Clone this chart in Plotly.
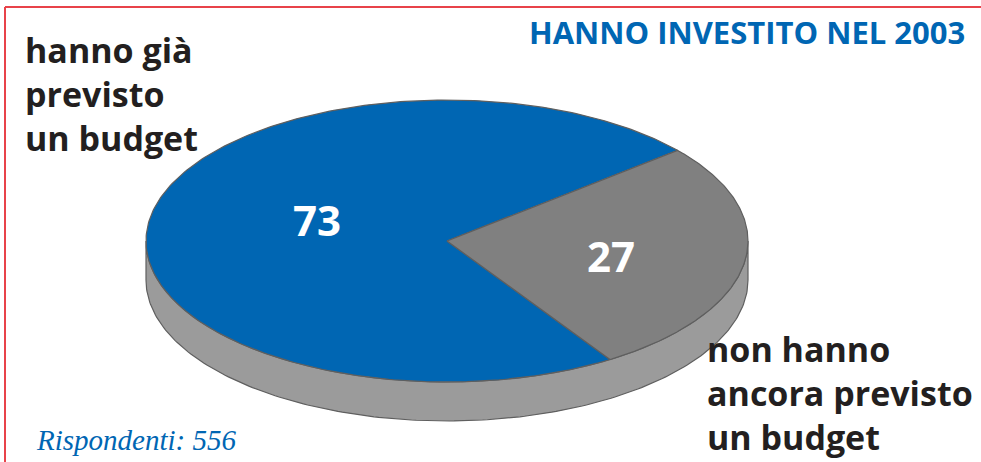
import numpy as np
import plotly.graph_objects as go

# ---- data ----
left_label_lines = ["hanno già", "previsto", "un budget"]
right_label_lines = ["non hanno", "ancora previsto", "un budget"]
values = [73, 27]
value_labels = ["73", "27"]
title_text = "HANNO INVESTITO NEL 2003"
note_text = "Rispondenti: 556"

# ---- styling / geometry ----
W, H = 981, 462
cx, cy, rx, ry, depth = 447, 241, 301, 141, 39
start_deg = 40.0          # boundary between the two slices (upper right)
colors = ["#0066b3", "#808080"]
side_color = "#9b9b9b"
edge = "#5f5f5f"
text_dark = "#231f20"
blue_text = "#0066b3"

fig = go.Figure()

def ell(t):
    return cx + rx * np.cos(t), cy - ry * np.sin(t)

# side (visible lower half)
t = np.linspace(np.pi, 2 * np.pi, 200)
x_top, y_top = ell(t)
xs = np.concatenate([x_top, x_top[::-1], [x_top[0]]])
ys = np.concatenate([y_top, (y_top + depth)[::-1], [y_top[0]]])
fig.add_trace(go.Scatter(x=xs, y=ys, mode="lines", fill="toself", fillcolor=side_color,
                         line=dict(color=edge, width=1.2), hoverinfo="skip", showlegend=False))

# top slices: gray goes clockwise from start, blue counter-clockwise from start
total = sum(values)
a0 = np.radians(start_deg)
span_gray = 2 * np.pi * values[1] / total
spans = {1: (a0 - span_gray, a0), 0: (a0, a0 + 2 * np.pi - span_gray)}
for i in (0, 1):
    lo, hi = spans[i]
    tt = np.linspace(lo, hi, 300)
    ex, ey = ell(tt)
    xs = np.concatenate([[cx], ex, [cx]])
    ys = np.concatenate([[cy], ey, [cy]])
    fig.add_trace(go.Scatter(x=xs, y=ys, mode="lines", fill="toself", fillcolor=colors[i],
                             line=dict(color=edge, width=1.2), hoverinfo="skip", showlegend=False))

# value labels on slices
fig.add_annotation(x=317, y=219, text=f"<b>{value_labels[0]}</b>", showarrow=False,
                   font=dict(family="Open Sans", size=42, color="white"))
fig.add_annotation(x=611, y=255, text=f"<b>{value_labels[1]}</b>", showarrow=False,
                   font=dict(family="Open Sans", size=42, color="white"))

# category labels
fig.add_annotation(x=23, y=94, text="<b>" + "<br>".join(left_label_lines) + "</b>", showarrow=False,
                   xanchor="left", yanchor="middle", align="left",
                   font=dict(family="Open Sans", size=34, color=text_dark))
fig.add_annotation(x=705, y=393, text="<b>" + "<br>".join(right_label_lines) + "</b>", showarrow=False,
                   xanchor="left", yanchor="middle", align="left",
                   font=dict(family="Open Sans", size=34, color=text_dark))

# title & note
fig.add_annotation(x=967, y=32, text=f"<b>{title_text}</b>", showarrow=False,
                   xanchor="right", yanchor="middle",
                   font=dict(family="Open Sans", size=31, color=blue_text))
fig.add_annotation(x=34, y=440, text=f"<i>{note_text}</i>", showarrow=False,
                   xanchor="left", yanchor="middle",
                   font=dict(family="Liberation Serif", size=29, color=blue_text))

# red frame (top and left)
fig.add_shape(type="line", xref="paper", yref="paper", x0=5 / W, x1=1, y0=1 - 7 / H, y1=1 - 7 / H,
              line=dict(color="#e8434a", width=2))
fig.add_shape(type="line", xref="paper", yref="paper", x0=5 / W, x1=5 / W, y0=0, y1=1 - 7 / H,
              line=dict(color="#e8434a", width=2))

fig.update_xaxes(range=[0, W], visible=False, fixedrange=True)
fig.update_yaxes(range=[H, 0], visible=False, fixedrange=True)
fig.update_layout(width=W, height=H, margin=dict(l=0, r=0, t=0, b=0),
                  paper_bgcolor="white", plot_bgcolor="white")

fig.write_html("out.html", config={"displayModeBar": False},
               post_script="document.body.style.margin='0';document.body.style.overflow='hidden';")
